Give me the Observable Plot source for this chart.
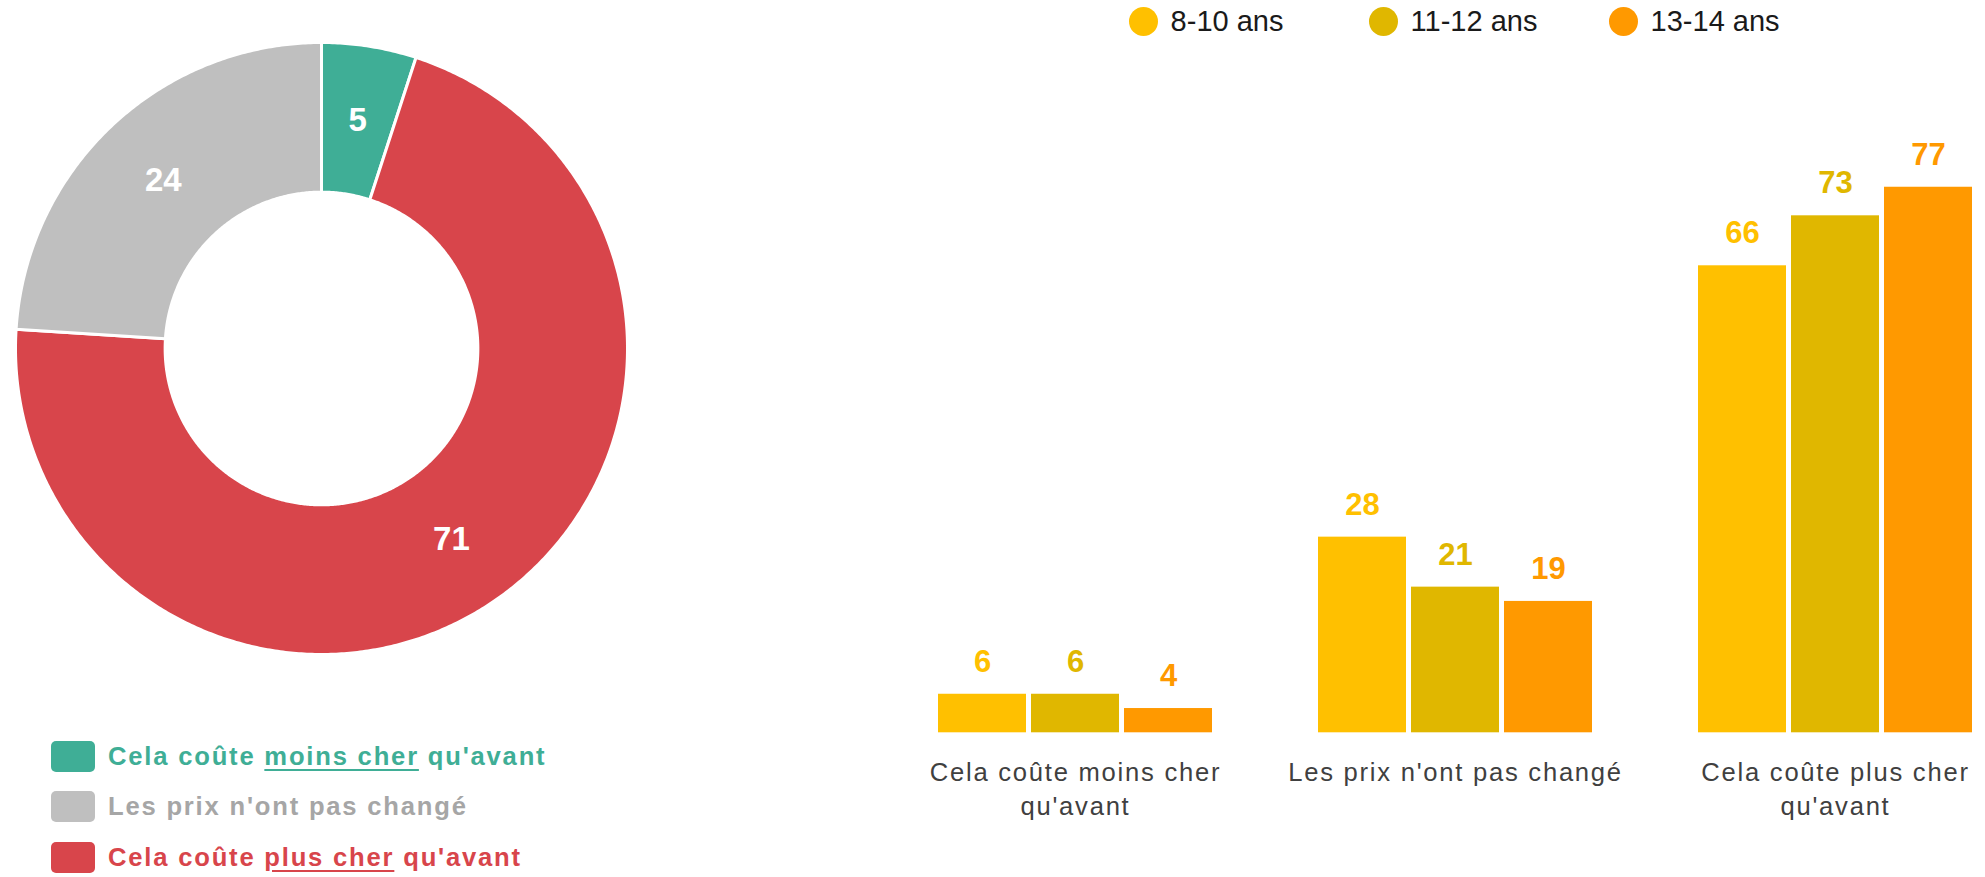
<!DOCTYPE html>
<html>
<head>
<meta charset="utf-8">
<script src="https://cdn.jsdelivr.net/npm/d3@7"></script>
<script src="https://cdn.jsdelivr.net/npm/@observablehq/plot@0.6"></script>
<style>
  body { margin: 0; background: #fff; font-family: "Liberation Sans", Arial, sans-serif; }
  #root { position: relative; width: 1985px; height: 877px; overflow: hidden; background: #fff; }
  #donut { position: absolute; left: 0; top: 0; }
  #bars { position: absolute; left: 880px; top: 0; }
  #pieLegend { position: absolute; left: 51px; top: 731px; }
  #pieLegend .row { display: flex; align-items: center; height: 50.5px; }
  #pieLegend .sw { width: 44px; height: 31px; border-radius: 5px; flex: none; }
  #pieLegend .lab { margin-left: 13px; font-weight: bold; font-size: 25.6px; letter-spacing: 1.8px; white-space: nowrap; }
  #pieLegend u { text-decoration-thickness: 2px; text-underline-offset: 4px; }
  #barLegend { position: absolute; left: 1129px; top: 7px; display: flex; }
  #barLegend .item { display: flex; align-items: center; width: 240px; height: 29px; }
  #barLegend .dot { width: 29px; height: 29px; border-radius: 50%; flex: none; }
  #barLegend .lab { margin-left: 12.6px; font-size: 29px; color: #1a1a1a; white-space: nowrap; }
  .barsvg g[aria-label="fx-axis tick label"] text { letter-spacing: 1.75px; }
</style>
</head>
<body>
<div id="root">
  <div id="donut"></div>
  <div id="bars"></div>
  <div id="pieLegend"></div>
  <div id="barLegend"></div>
</div>
<script>
// ---------- Donut data ----------
const pieLabels = ["Cela coûte moins cher qu'avant", "Les prix n'ont pas changé", "Cela coûte plus cher qu'avant"];
const pieValues = [5, 24, 71];
const pieColors = ["#3FAE96", "#BFBFBF", "#D8454B"];
const pieTextColors = ["#3FAE96", "#A6A6A6", "#D8454B"];
const pieUnderlined = ["moins cher", null, "plus cher"];
// clockwise order around the ring, starting at 12 o'clock
const pieRingOrder = ["Cela coûte moins cher qu'avant", "Cela coûte plus cher qu'avant", "Les prix n'ont pas changé"];

// ---------- Bar data ----------
const barCategories = ["Cela coûte moins cher qu'avant", "Les prix n'ont pas changé", "Cela coûte plus cher qu'avant"];
const barTickLabels = ["Cela coûte moins cher\nqu'avant", "Les prix n'ont pas changé", "Cela coûte plus cher\nqu'avant"];
const ageGroups = ["8-10 ans", "11-12 ans", "13-14 ans"];
const values8to10 = [6, 28, 66];
const values11to12 = [6, 21, 73];
const values13to14 = [4, 19, 77];
const ageColors = ["#FFC000", "#E0B700", "#FF9900"];

const FONT = '"Liberation Sans", Arial, sans-serif';

// ---------- Donut ----------
const total = d3.sum(pieValues);
let acc = 0;
const slices = pieRingOrder.map(label => {
  const value = pieValues[pieLabels.indexOf(label)];
  const a0 = acc / total * 2 * Math.PI;
  acc += value;
  const a1 = acc / total * 2 * Math.PI;
  return {label, value, a0, a1};
});
const outerR = 1, innerR = 0.511;
const ring = slices.flatMap(s => {
  const n = Math.max(2, Math.ceil((s.a1 - s.a0) / (Math.PI / 360)));
  const angles = d3.range(n + 1).map(i => s.a0 + (s.a1 - s.a0) * i / n);
  const outer = angles.map(a => ({label: s.label, x: outerR * Math.sin(a), y: outerR * Math.cos(a)}));
  const inner = angles.slice().reverse().map(a => ({label: s.label, x: innerR * Math.sin(a), y: innerR * Math.cos(a)}));
  return outer.concat(inner);
});
const labelR = (outerR + innerR) / 2;

const donut = Plot.plot({
  width: 642, height: 700,
  marginLeft: 15, marginRight: 15, marginTop: 42, marginBottom: 46,
  x: {domain: [-1, 1], axis: null},
  y: {domain: [-1, 1], axis: null},
  color: {domain: pieLabels, range: pieColors},
  style: {background: "transparent", fontFamily: FONT},
  marks: [
    Plot.line(ring, {x: "x", y: "y", z: "label", fill: "label", stroke: "white", strokeWidth: 3, curve: "linear-closed"}),
    Plot.text(slices, {
      x: d => labelR * Math.sin((d.a0 + d.a1) / 2),
      y: d => labelR * Math.cos((d.a0 + d.a1) / 2),
      text: d => String(d.value),
      fill: "white", fontSize: 33, fontWeight: "bold"
    })
  ]
});
document.getElementById("donut").appendChild(donut);

// ---------- Donut legend ----------
const pieLegend = document.getElementById("pieLegend");
pieLabels.forEach((label, i) => {
  const row = document.createElement("div");
  row.className = "row";
  const sw = document.createElement("div");
  sw.className = "sw";
  sw.style.background = pieColors[i];
  const lab = document.createElement("div");
  lab.className = "lab";
  lab.style.color = pieTextColors[i];
  const u = pieUnderlined[i];
  if (u && label.includes(u)) {
    const [before, after] = label.split(u);
    lab.appendChild(document.createTextNode(before));
    const el = document.createElement("u");
    el.textContent = u;
    lab.appendChild(el);
    lab.appendChild(document.createTextNode(after));
  } else {
    lab.textContent = label;
  }
  row.appendChild(sw);
  row.appendChild(lab);
  pieLegend.appendChild(row);
});

// ---------- Bars ----------
const seriesValues = [values8to10, values11to12, values13to14];
const table = barCategories.flatMap((cat, ci) =>
  ageGroups.map((age, ai) => ({cat, age, value: seriesValues[ai][ci]})));
const tickLabelOf = new Map(barCategories.map((c, i) => [c, barTickLabels[i]]));

const bars = Plot.plot({
  className: "barsvg",
  width: 1105, height: 877,
  marginLeft: 58, marginRight: 13.4, marginTop: 22.5, marginBottom: 140.4,
  facet: {marginTop: 0, marginRight: 0, marginBottom: 0, marginLeft: 0},
  fx: {domain: barCategories, paddingInner: 0.28, paddingOuter: 0, label: null},
  x: {domain: ageGroups, paddingInner: 0.054, paddingOuter: 0, axis: null},
  y: {domain: [0, 100], axis: null},
  color: {domain: ageGroups, range: ageColors},
  style: {background: "transparent", fontFamily: FONT},
  marks: [
    Plot.barY(table, {fx: "cat", x: "age", y: "value", fill: "age", insetBottom: 4.3}),
    Plot.text(table, {fx: "cat", x: "age", y: "value", text: d => String(d.value), fill: "age",
      dy: -32.5, fontSize: 31, fontWeight: "bold"}),
    Plot.axisFx({anchor: "bottom", tickSize: 0, tickPadding: 20, label: null,
      tickFormat: d => tickLabelOf.get(d), fontSize: 25.6, lineHeight: 1.32, fill: "#404040"})
  ]
});
document.getElementById("bars").appendChild(bars);

// ---------- Bar legend ----------
const barLegend = document.getElementById("barLegend");
ageGroups.forEach((age, i) => {
  const item = document.createElement("div");
  item.className = "item";
  const dot = document.createElement("div");
  dot.className = "dot";
  dot.style.background = ageColors[i];
  const lab = document.createElement("div");
  lab.className = "lab";
  lab.textContent = age;
  item.appendChild(dot);
  item.appendChild(lab);
  barLegend.appendChild(item);
});
</script>
</body>
</html>
